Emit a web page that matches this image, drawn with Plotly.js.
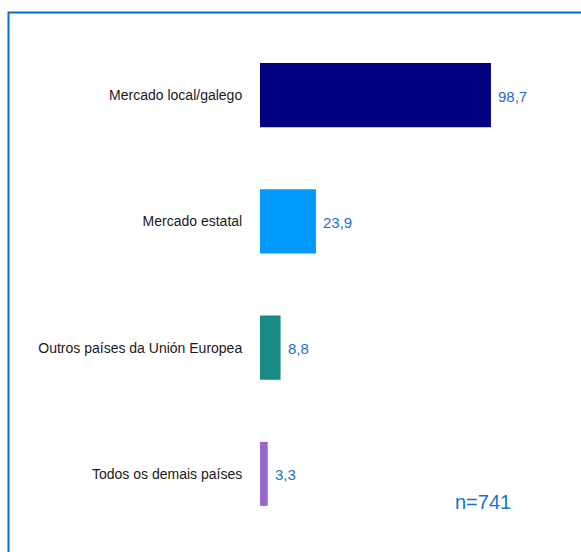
<!DOCTYPE html>
<html>
<head>
<meta charset="utf-8">
<script src="https://cdn.plot.ly/plotly-3.0.1.min.js"></script>
<style>html,body{margin:0;padding:0;background:#fff;}#chart{width:581px;height:552px;}</style>
</head>
<body>
<div id="chart"></div>
<script>
const categories = ["Mercado local/galego", "Mercado estatal", "Outros países da Unión Europea", "Todos os demais países"];
const values = [98.7, 23.9, 8.8, 3.3];
const barColors = ["#000080", "#0099FF", "#1A8A87", "#9966CC"];
const sampleNote = "n=741";

const W = 581, H = 552;
const mL = 260, mR = 21, mT = 32, mB = 15;
const pw = W - mL - mR, ph = H - mT - mB;
const px = v => (v - mL) / pw;
const py = v => (H - mB - v) / ph;

const FONT = '"Liberation Sans", Arial, sans-serif';
const fmt = v => v.toFixed(1).replace('.', ',');

const annotations = values.map((v, i) => ({
  x: v, y: categories[i], xref: 'x', yref: 'y',
  text: fmt(v), showarrow: false, xanchor: 'left', yanchor: 'middle',
  xshift: 5, yshift: -1, font: {family: FONT, size: 15, color: '#1a6fd6'}
}));
annotations.push({
  x: px(453), y: py(502), xref: 'paper', yref: 'paper', text: sampleNote,
  showarrow: false, xanchor: 'left', yanchor: 'middle',
  font: {family: FONT, size: 20, color: '#1a6fd6'}
});

const data = [{
  type: 'bar', orientation: 'h', x: values, y: categories,
  marker: {color: barColors, line: {width: 0}}, width: 0.507,
  hoverinfo: 'none'
}];

const layout = {
  width: W, height: H,
  margin: {l: mL, r: mR, t: mT, b: mB, pad: 0},
  paper_bgcolor: '#fff', plot_bgcolor: '#fff',
  showlegend: false,
  font: {family: FONT},
  xaxis: {range: [0, pw / 2.34], visible: false, fixedrange: true},
  yaxis: {autorange: 'reversed', showgrid: false, zeroline: false, showline: false,
          ticks: 'outside', ticklen: 14, tickcolor: 'rgba(0,0,0,0)',
          tickfont: {family: FONT, size: 14, color: '#1a1a1a'}},
  annotations: annotations,
  shapes: [{
    type: 'path', xref: 'paper', yref: 'paper',
    path: `M ${px(8.5)} ${py(560)} L ${px(8.5)} ${py(12.5)} L ${px(590)} ${py(12.5)}`,
    line: {color: '#0a6ad3', width: 2}
  }]
};

Plotly.newPlot('chart', data, layout, {displayModeBar: false, staticPlot: true});
</script>
</body>
</html>
